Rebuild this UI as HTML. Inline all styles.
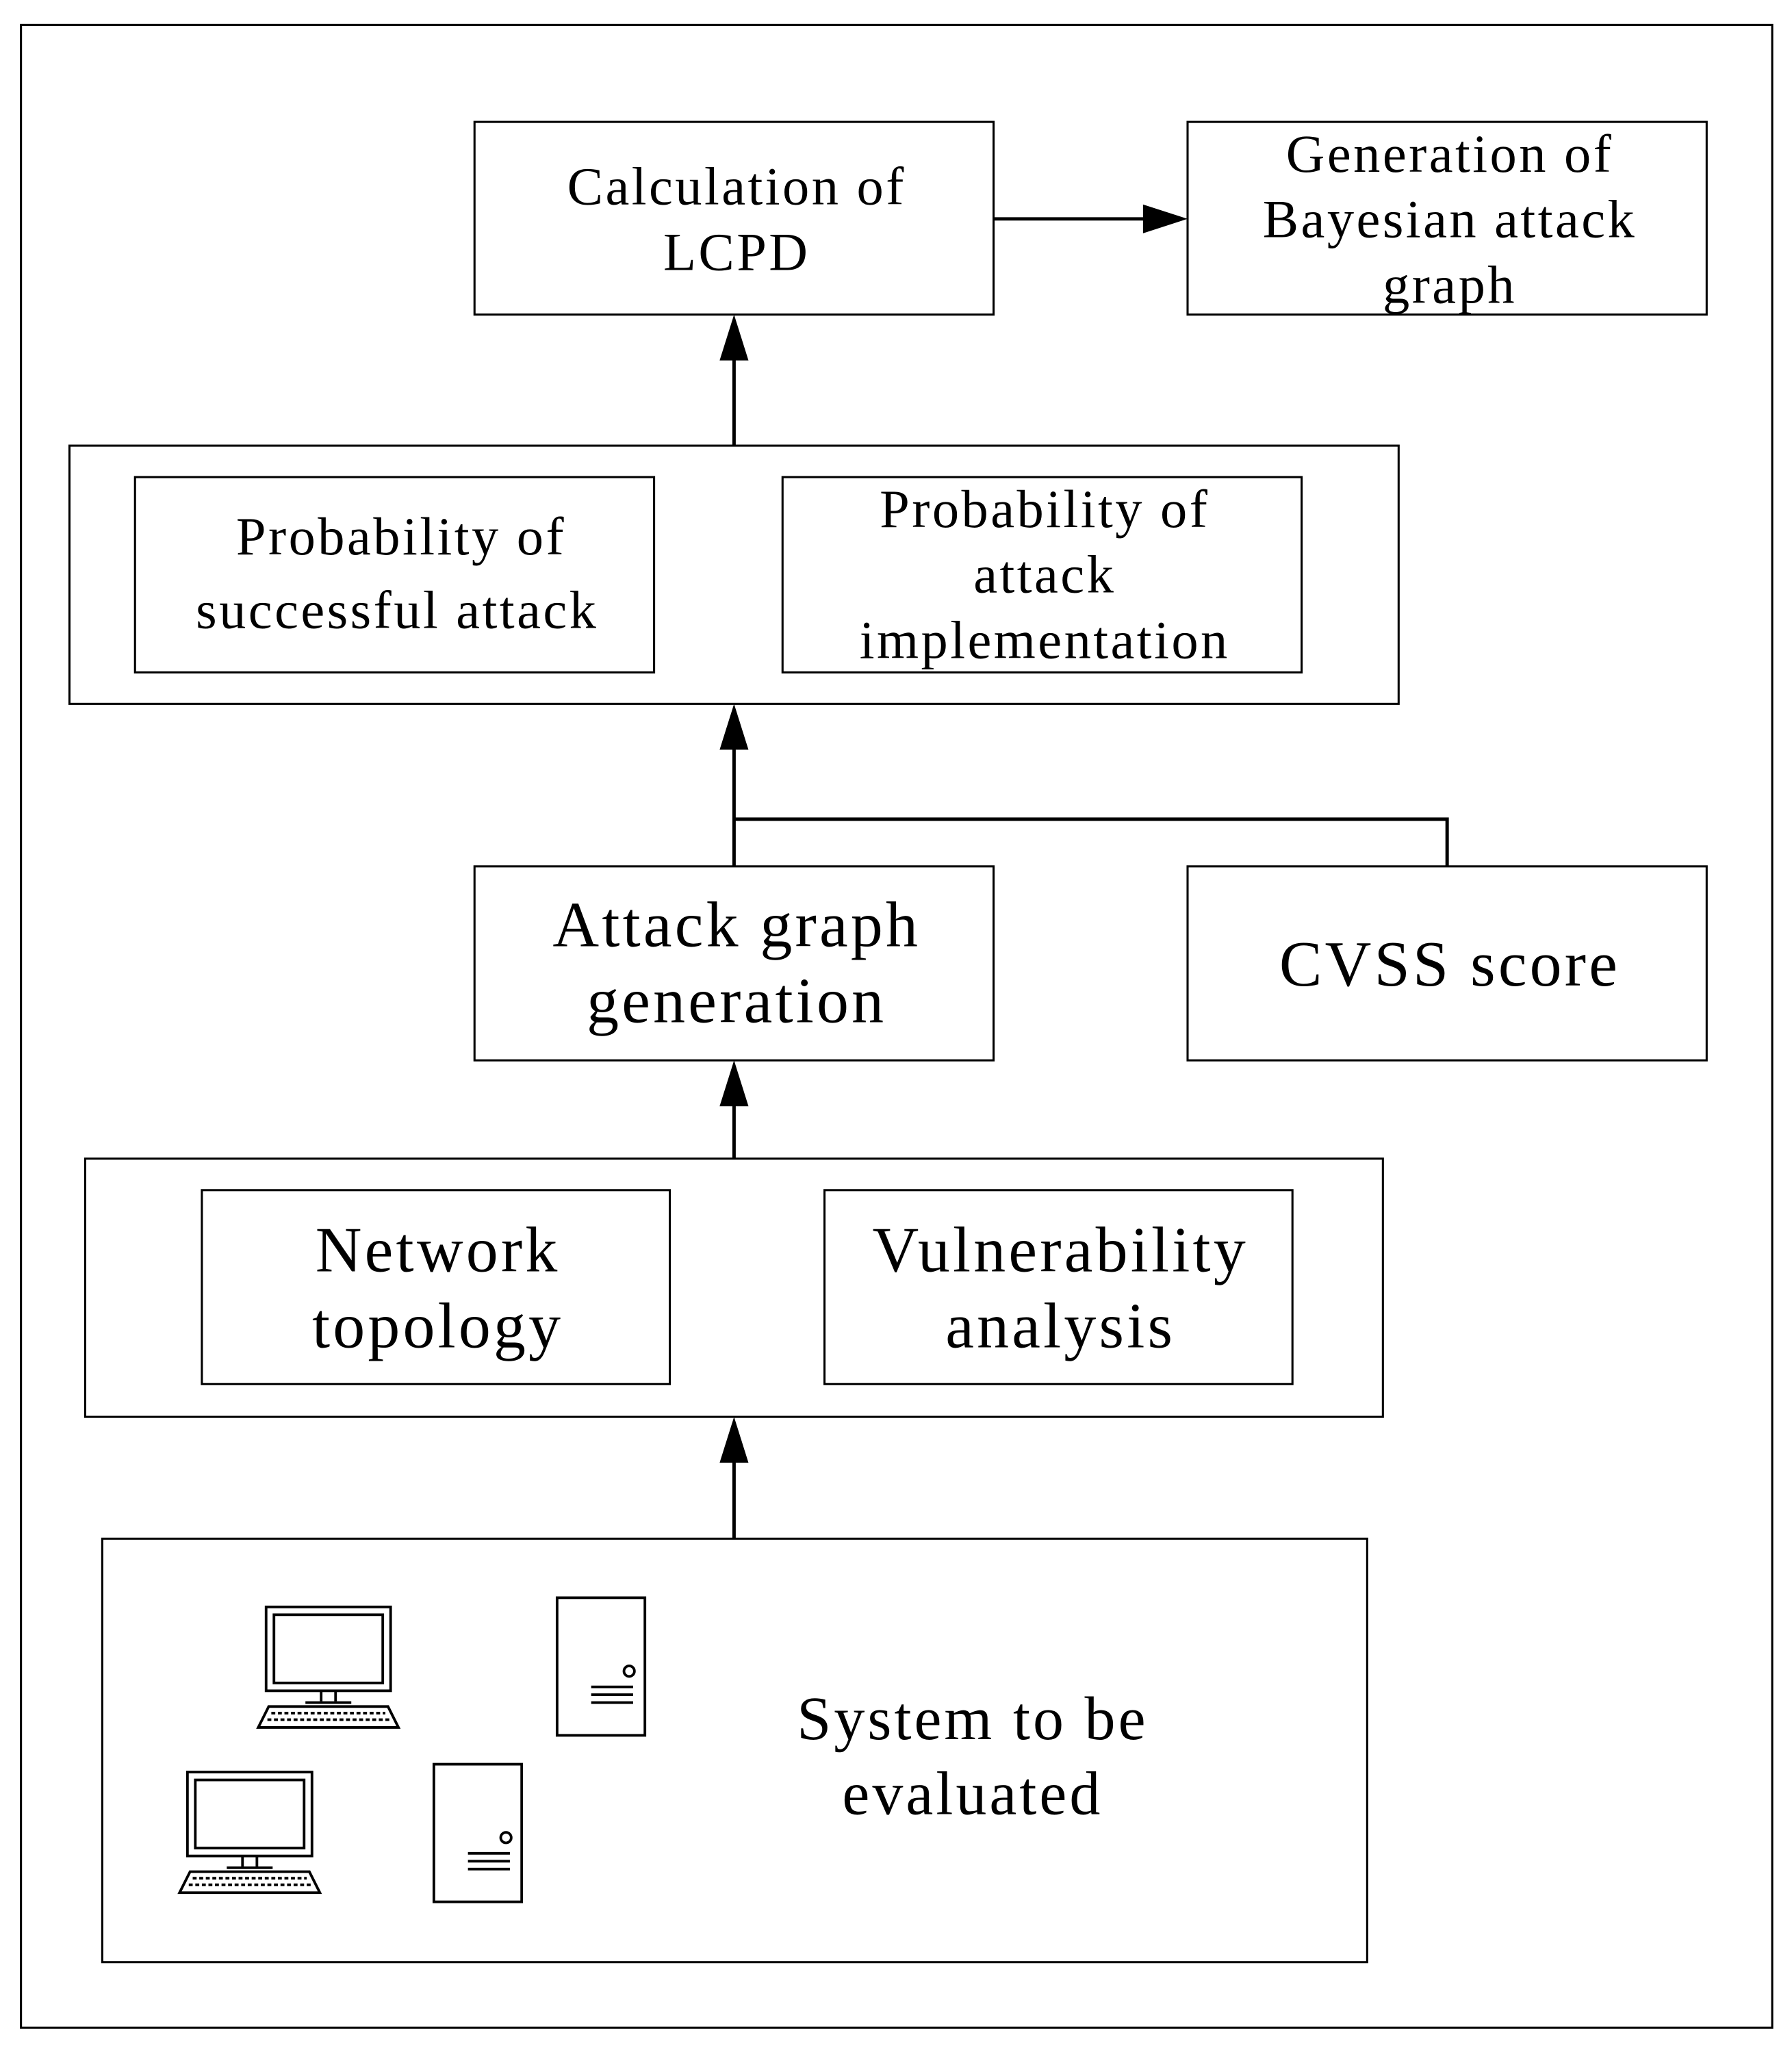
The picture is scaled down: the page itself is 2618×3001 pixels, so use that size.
<!DOCTYPE html>
<html><head><meta charset="utf-8"><style>
html,body{margin:0;padding:0;background:#fff;}
svg{display:block;}
text{font-family:"Liberation Serif",serif;fill:#000;text-anchor:middle;}
</style></head><body>
<svg width="2618" height="3001" viewBox="0 0 1367.1 1567.1" xmlns="http://www.w3.org/2000/svg">
<g fill="none" stroke="#000" stroke-width="1.6">
<rect x="16" y="19" width="1336" height="1528"/>
<rect x="362" y="93" width="396" height="147"/>
<rect x="906" y="93" width="396" height="147"/>
<rect x="53" y="340" width="1014" height="197"/>
<rect x="103" y="364" width="396" height="149"/>
<rect x="597" y="364" width="396" height="149"/>
<rect x="362" y="661" width="396" height="148"/>
<rect x="906" y="661" width="396" height="148"/>
<rect x="65" y="884" width="990" height="197"/>
<rect x="154" y="908" width="357" height="148"/>
<rect x="629" y="908" width="357" height="148"/>
<rect x="78" y="1174" width="965" height="323"/>
</g>
<g fill="none" stroke="#000" stroke-width="2.6">
<line x1="560" y1="272" x2="560" y2="340"/>
<line x1="758" y1="167" x2="875" y2="167"/>
<line x1="560" y1="570" x2="560" y2="661"/>
<polyline points="560,625 1104,625 1104,661"/>
<line x1="560" y1="842" x2="560" y2="884"/>
<line x1="560" y1="1114" x2="560" y2="1174"/>
</g>
<g fill="#000">
<polygon points="560,240 549,275 571,275"/>
<polygon points="906,167 872,156 872,178"/>
<polygon points="560,537 549,572 571,572"/>
<polygon points="560,809 549,844 571,844"/>
<polygon points="560,1081 549,1116 571,1116"/>
</g>
<g font-size="41" letter-spacing="1.8">
<text x="562" y="156">Calculation of</text>
<text x="562" y="206">LCPD</text>
<text x="1106" y="131">Generation of</text>
<text x="1106" y="181">Bayesian attack</text>
<text x="1106" y="231">graph</text>
<text x="306" y="423">Probability of</text>
<text x="303" y="479">successful attack</text>
<text x="797" y="402">Probability of</text>
<text x="797" y="452">attack</text>
<text x="797" y="502">implementation</text>
</g>
<g font-size="49" letter-spacing="2.2">
<text x="562" y="722">Attack graph</text>
<text x="562" y="780">generation</text>
<text x="1106" y="752">CVSS score</text>
<text x="334" y="970">Network</text>
<text x="334" y="1028">topology</text>
<text x="809" y="970">Vulnerability</text>
<text x="809" y="1028">analysis</text>
<text x="742" y="1327" font-size="47" letter-spacing="2.1">System to be</text>
<text x="742" y="1384" font-size="47" letter-spacing="2.1">evaluated</text>
</g>
<defs>
<g id="pc" fill="none" stroke="#000" stroke-width="2">
<rect x="0" y="0" width="95" height="64"/>
<rect x="6" y="6" width="83" height="52"/>
<line x1="42" y1="64" x2="42" y2="72"/><line x1="53" y1="64" x2="53" y2="72"/>
<line x1="30" y1="73" x2="65" y2="73"/>
<polygon points="2,76 93,76 101,92 -6,92"/>
<line x1="4" y1="81" x2="91" y2="81" stroke-dasharray="3,2"/>
<line x1="1" y1="86" x2="94" y2="86" stroke-dasharray="3,2"/>
</g>
<g id="srv" fill="none" stroke="#000" stroke-width="2">
<rect x="0" y="0" width="67" height="105"/>
<circle cx="55" cy="56" r="4"/>
<line x1="26" y1="68" x2="58" y2="68"/>
<line x1="26" y1="74" x2="58" y2="74"/>
<line x1="26" y1="80" x2="58" y2="80"/>
</g>
</defs>
<use href="#pc" x="203" y="1226"/>
<use href="#pc" x="143" y="1352"/>
<use href="#srv" x="425" y="1219"/>
<use href="#srv" x="331" y="1346"/>
</svg>
</body></html>
